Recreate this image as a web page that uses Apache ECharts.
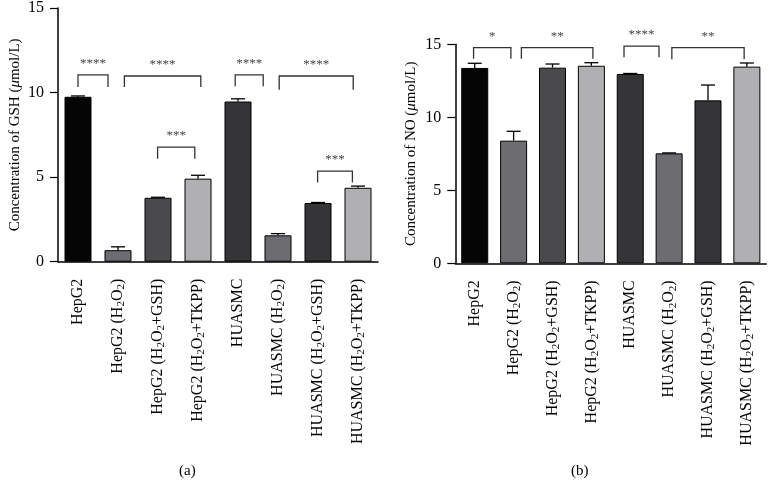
<!DOCTYPE html>
<html><head><meta charset="utf-8">
<script src="https://cdn.jsdelivr.net/npm/echarts@6/dist/echarts.min.js"></script>
<style>html,body{margin:0;padding:0;background:#fff}#c{width:768px;height:481px}</style>
</head><body><div id="c"></div>
<script>
const categories = ['HepG2','HepG2 (H2O2)','HepG2 (H2O2+GSH)','HepG2 (H2O2+TKPP)','HUASMC','HUASMC (H2O2)','HUASMC (H2O2+GSH)','HUASMC (H2O2+TKPP)'];
const barColors = ['#050505','#6d6d71','#4a4a4c','#b0b0b2','#353537','#6d6d71','#353537','#b0b0b2'];
const yTicks = [0, 5, 10, 15];
const gshMean = [9.75, 0.68, 3.78, 4.91, 9.47, 1.56, 3.47, 4.37];
const gshErr  = [0.05, 0.20, 0.03, 0.20, 0.16, 0.10, 0.03, 0.10];
const noMean  = [13.38, 8.40, 13.40, 13.53, 12.97, 7.53, 11.16, 13.47];
const noErr   = [0.32, 0.64, 0.25, 0.21, 0.03, 0.03, 1.05, 0.25];
// brackets: [x start, x end (category units), top value, leg end value]
const gshBrackets = [[0,0.75,11.05,10.33],[1.16,3.07,10.98,10.33],[1.99,2.92,6.78,6.08],[3.93,4.63,11.05,10.37],[5.03,6.88,10.98,10.16],[5.99,6.86,5.35,4.68]];
const gshStars = ['****','****','***','****','****','***'];
const noBrackets = [[-0.03,0.93,14.77,14.01],[1.2,3.04,14.77,14.01],[3.84,4.74,14.88,14.11],[5.07,6.93,14.77,13.97]];
const noStars = ['*','**','****','**'];
const yNames = ['{n|Concentration of GSH (}{i|μ}{n|mol/L)}','{n|Concentration of NO (}{i|μ}{n|mol/L)}'];

const FONT = '"Liberation Serif", "Times New Roman", serif';
function fmtCat(v){
  const parts = v.split('H2O2');
  return parts.map(p => p ? '{a|' + p + '}' : '').join('{a|H}{s|2}{a|O}{s|2}');
}
const grids = [
  {left: 58, top: 5.2, width: 320, height: 256.5},
  {left: 455.3, top: 44.3, width: 311, height: 219}
];
const nameGaps = [35, 37];
const xAxes = [], yAxes = [], series = [];
[0,1].forEach(g => {
  xAxes.push({
    type: 'category', gridIndex: g, data: categories,
    axisLine: {onZero: false, lineStyle: {color: '#000', width: 1.5}},
    axisTick: {alignWithLabel: true, length: 9, lineStyle: {color: '#000', width: 1.2}},
    axisLabel: {rotate: 90, margin: 17, formatter: fmtCat, interval: 0,
      fontFamily: FONT, fontSize: 16, color: '#000',
      rich: {a: {fontFamily: FONT, fontSize: 16, color: '#000', lineHeight: 18},
             s: {fontFamily: FONT, fontSize: 11, color: '#000', lineHeight: 11, verticalAlign: 'bottom'}}}
  });
  xAxes.push({type: 'value', gridIndex: g, min: -0.5, max: 7.5, show: false});
  yAxes.push({
    type: 'value', gridIndex: g, min: yTicks[0], max: yTicks[yTicks.length-1], interval: 5,
    name: yNames[g], nameLocation: 'middle', nameGap: nameGaps[g],
    nameTextStyle: {fontFamily: FONT, fontSize: 15,
      rich: {n: {fontFamily: FONT, fontSize: 15, color: '#000'}, i: {fontFamily: FONT, fontSize: 15, fontStyle: 'italic', color: '#000'}}},
    axisLine: {show: true, onZero: false, lineStyle: {color: '#000', width: 1.5}},
    axisTick: {show: true, length: 8, lineStyle: {color: '#000', width: 1.2}},
    axisLabel: {fontFamily: FONT, fontSize: 16, color: '#000', margin: 14},
    splitLine: {show: false}
  });
  const mean = g === 0 ? gshMean : noMean;
  const err = g === 0 ? gshErr : noErr;
  const br = g === 0 ? gshBrackets : noBrackets;
  const st = g === 0 ? gshStars : noStars;
  series.push({
    type: 'bar', xAxisIndex: g*2, yAxisIndex: g, barWidth: 27,
    data: mean.map((v,i) => ({value: v, itemStyle: {color: barColors[i]}})),
    itemStyle: {borderColor: '#000', borderWidth: 1}, silent: true
  });
  series.push({
    type: 'custom', xAxisIndex: g*2+1, yAxisIndex: g, z: 5, silent: true,
    encode: {x: 0, y: [1, 2]},
    data: mean.map((v,i) => [i, v, v + err[i]]),
    renderItem: function(params, api){
      const i = api.value(0), m = api.value(1), top = api.value(2);
      const b = api.coord([i, m]), t = api.coord([i, top]);
      const s = {stroke: '#000', lineWidth: 1.3};
      return {type: 'group', children: [
        {type: 'line', shape: {x1: b[0], y1: b[1], x2: t[0], y2: t[1]}, style: s},
        {type: 'line', shape: {x1: t[0]-7, y1: t[1], x2: t[0]+7, y2: t[1]}, style: s}
      ]};
    }
  });
  series.push({
    type: 'custom', xAxisIndex: g*2+1, yAxisIndex: g, z: 5, silent: true, clip: false,
    encode: {x: [0,1], y: [2,3]},
    data: br,
    renderItem: function(params, api){
      const x1 = api.value(0), x2 = api.value(1), yt = api.value(2), yb = api.value(3);
      const p1 = api.coord([x1, yb]), p2 = api.coord([x1, yt]), p3 = api.coord([x2, yt]), p4 = api.coord([x2, yb]);
      return {type: 'group', children: [
        {type: 'polyline', shape: {points: [p1, p2, p3, p4]}, style: {stroke: '#333', lineWidth: 1.3, fill: null}},
        {type: 'text', x: (p2[0]+p3[0])/2, y: p2[1] - 5,
         style: {text: st[params.dataIndex], font: '13px ' + FONT, fill: '#444', align: 'center', verticalAlign: 'bottom'}}
      ]};
    }
  });
});
const chart = echarts.init(document.getElementById('c'), null, {renderer: 'canvas'});
chart.setOption({
  animation: false,
  backgroundColor: '#fff',
  grid: grids, xAxis: xAxes, yAxis: yAxes, series: series,
  graphic: [
    {type: 'text', left: 179, top: 464, style: {text: '(a)', font: '15px ' + FONT, fill: '#000'}},
    {type: 'text', left: 571, top: 464, style: {text: '(b)', font: '15px ' + FONT, fill: '#000'}}
  ]
});
</script></body></html>
